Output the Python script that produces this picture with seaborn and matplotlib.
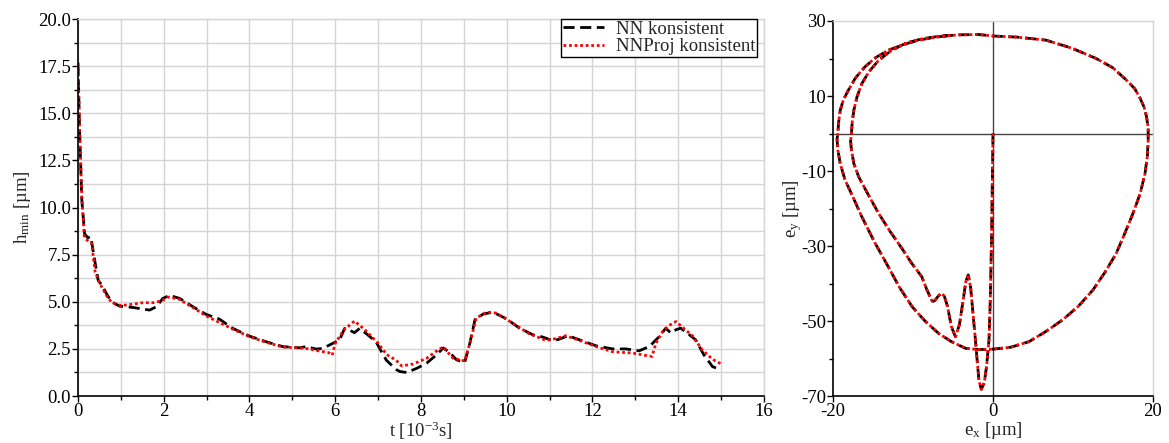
import numpy as np
import pandas as pd
import matplotlib
matplotlib.use("Agg")
import matplotlib.pyplot as plt
from matplotlib.ticker import MultipleLocator
import seaborn as sns

# values
t_nn = [0.0, 0.04, 0.09, 0.155, 0.23, 0.3, 0.39, 0.47, 0.58, 0.66, 0.78, 0.97, 1.28, 1.67,
        1.83, 1.98, 2.14, 2.37, 2.68, 2.99, 3.3, 3.61, 4.0, 4.39, 4.78, 5.17, 5.32, 5.56,
        5.71, 5.94, 6.1, 6.22, 6.33, 6.45, 6.57, 6.72, 6.95, 7.19, 7.42, 7.51, 7.67, 7.9,
        8.13, 8.36, 8.52, 8.67, 8.83, 9.02, 9.14, 9.26, 9.45, 9.68, 9.99, 10.3, 10.61,
        10.84, 11.08, 11.23, 11.43, 11.7, 12.09, 12.47, 12.78, 13.09, 13.33, 13.56, 13.71,
        13.83, 13.95, 14.06, 14.26, 14.41, 14.6, 14.8, 14.99]
h_nn = [17.65, 13.9, 10.4, 8.6, 8.4, 8.45, 7.2, 6.15, 5.8, 5.45, 5.0, 4.77, 4.7, 4.56,
        4.74, 5.18, 5.34, 5.18, 4.74, 4.33, 4.08, 3.59, 3.18, 2.88, 2.62, 2.56, 2.62, 2.49,
        2.53, 2.79, 2.97, 3.59, 3.5, 3.36, 3.59, 3.32, 2.88, 1.91, 1.41, 1.3, 1.25, 1.47,
        1.74, 2.18, 2.55, 2.31, 1.92, 1.78, 2.8, 4.05, 4.35, 4.45, 4.1, 3.6, 3.25,
        3.13, 2.93, 3.02, 3.2, 2.98, 2.66, 2.5, 2.5, 2.4, 2.63, 3.16, 3.6,
        3.34, 3.52, 3.6, 3.25, 2.98, 2.18, 1.56, 1.4]

t_proj = [0.0, 0.04, 0.09, 0.15, 0.25, 0.32, 0.4, 0.5, 0.6, 0.7, 0.8, 1.0, 1.2, 1.5,
          1.75, 1.95, 2.1, 2.35, 2.68, 2.99, 3.3, 3.61, 4.0, 4.39, 4.78, 5.17, 5.4, 5.6,
          5.85, 5.93, 6.0, 6.2, 6.45, 6.7, 7.0, 7.2, 7.42, 7.55, 7.82, 8.13, 8.4, 8.52,
          8.75, 9.02, 9.14, 9.29, 9.53, 9.76, 10.15, 10.53, 10.92, 11.15, 11.38, 11.7, 12.09,
          12.47, 12.94, 13.25, 13.39, 13.48, 13.64, 13.79, 13.95, 14.1, 14.33, 14.56, 14.8,
          14.99]
h_proj = [17.7, 14.0, 10.5, 8.4, 8.2, 8.1, 6.6, 6.0, 5.6, 5.2, 4.95, 4.8, 4.85, 4.95,
          4.95, 5.05, 5.25, 5.15, 4.7, 4.25, 3.9, 3.55, 3.15, 2.85, 2.6, 2.55, 2.5, 2.4,
          2.3, 2.17, 2.8, 3.5, 3.98, 3.5, 2.8, 2.2, 1.9, 1.6, 1.7, 2.0, 2.45, 2.6,
          2.0, 1.86, 2.8, 4.14, 4.45, 4.4, 3.85, 3.3, 2.95, 3.05, 3.2, 2.95, 2.62,
          2.35, 2.28, 2.15, 2.1, 2.8, 3.43, 3.75, 3.95, 3.65, 3.2, 2.45, 1.95,
          1.72]

ex_nn = [0.0, -0.1, -0.2, -0.35, -0.5, -0.8, -1.1, -1.46, -1.75, -2.0, -2.2, -2.5, -2.8,
         -3.1, -3.4, -3.7, -4.2, -4.7, -5.2, -5.7, -6.1, -6.5, -6.9, -7.3, -7.6,
         -8.3, -8.9, -10.2, -11.4, -12.9, -14.3, -15.6, -16.8, -17.4, -17.7, -17.8, -17.7,
         -17.6, -17.4, -17.0, -16.4, -15.5, -14.3, -12.8, -11.0, -9.0, -6.8, -4.3, -1.8,
         0.0, 3.0, 6.6, 9.8, 12.9, 15.0, 16.7, 17.7, 18.3, 18.9, 19.2, 19.4, 19.4, 19.3,
         19.0, 18.4, 17.5, 16.5, 15.4, 14.0, 12.5, 10.7, 8.7, 6.6, 4.5, 2.2, 0.0, -1.7,
         -3.4, -5.2, -6.8, -8.5, -10.1, -11.7, -13.1, -14.8, -16.4, -17.6, -18.5, -19.1,
         -19.4, -19.5, -19.4, -19.3, -19.1, -18.7, -18.1, -17.2, -16.0, -14.7, -13.1,
         -11.2, -9.3, -7.2, -5.1]
ey_nn = [0.0, -15.0, -30.0, -45.0, -55.0, -62.0, -66.5, -68.2, -66.0, -60.0, -55.0, -48.0,
         -41.0, -37.7, -39.5, -44.0, -51.0, -54.2, -51.5, -46.0, -43.3, -42.6, -43.5, -44.6,
         -44.8, -41.5, -38.2, -34.5, -30.6, -26.0, -21.3, -16.3, -11.5, -8.0, -4.4, -2.0,
         0.0, 3.0, 6.2, 9.8, 13.3, 16.5, 19.5, 22.0, 24.0, 25.2, 25.9, 26.3, 26.4,
         26.0, 25.7, 24.9, 22.8, 20.0, 17.5, 14.2, 12.0, 9.8, 7.0, 4.4, 1.5, -1.8, -6.0,
         -10.7, -16.0, -21.3, -26.5, -32.0, -37.0, -41.7, -46.0, -49.7, -52.8, -55.5, -57.0,
         -57.5, -57.6, -57.3, -55.5, -53.3, -50.0, -46.2, -41.0, -35.5, -29.0, -22.2,
         -16.5, -12.4, -8.0, -4.4, -1.5, 0.0, 3.0, 6.2, 9.0, 11.5, 14.8, 17.8, 20.2,
         22.2, 23.7, 24.9, 25.7, 26.2]
ex_proj = list(ex_nn)
ey_proj = list(ey_nn)

sns.set_style("white")
plt.rcParams["font.family"] = ["Liberation Serif", "DejaVu Serif"]
plt.rcParams["mathtext.fontset"] = "custom"
plt.rcParams["mathtext.rm"] = "Liberation Serif"
plt.rcParams["mathtext.it"] = "Liberation Serif:italic"
plt.rcParams["axes.unicode_minus"] = False
fs = 13.5

fig = plt.figure(figsize=(11.69, 4.43), dpi=100)
ax1 = fig.add_axes([0.0667, 0.106, 0.5868, 0.851])
ax2 = fig.add_axes([0.7126, 0.106, 0.2737, 0.8466])

dash = (0, (4, 2))
dot = (0, (1, 1))

# left: h_min over time
sns.lineplot(x=t_nn, y=h_nn, ax=ax1, color="black", lw=2, linestyle=dash,
             sort=False, estimator=None, label="NN konsistent")
sns.lineplot(x=t_proj, y=h_proj, ax=ax1, color="#ff0000", lw=2, linestyle=dot,
             sort=False, estimator=None, label="NNProj konsistent")
ax1.set_xlim(0, 16)
ax1.set_ylim(0, 20)
ax1.xaxis.set_major_locator(MultipleLocator(2))
ax1.xaxis.set_minor_locator(MultipleLocator(1))
ax1.yaxis.set_major_locator(MultipleLocator(2.5))
ax1.yaxis.set_minor_locator(MultipleLocator(1.25))
ax1.set_yticks(np.arange(0, 20.1, 2.5))
ax1.set_yticklabels([f"{v:.1f}" for v in np.arange(0, 20.1, 2.5)])
ax1.grid(True, which="both", color="#d4d4d4", lw=1)
ax1.set_axisbelow(True)
ax1.set_xlabel("t [10$^{-3}$s]", fontsize=fs, labelpad=0)
ax1.set_ylabel("h$_{\\mathrm{min}}$ [µm]", fontsize=fs, labelpad=4)
leg = ax1.legend(loc="upper right", bbox_to_anchor=(0.99, 1.0), borderaxespad=0,
                 fontsize=fs, fancybox=False, framealpha=1, edgecolor="black",
                 handlelength=2.2, borderpad=0.1, labelspacing=0.0, handletextpad=0.6)
leg.get_frame().set_linewidth(1)

# right: shaft orbit
ax2.axhline(0, color="#444444", lw=1, zorder=1)
ax2.axvline(0, color="#444444", lw=1, zorder=1)
sns.lineplot(x=ex_nn, y=ey_nn, ax=ax2, color="black", lw=2, linestyle=dash,
             sort=False, estimator=None)
sns.lineplot(x=ex_proj, y=ey_proj, ax=ax2, color="#ff0000", lw=2, linestyle=dot,
             sort=False, estimator=None)
ax2.set_xlim(-20, 20)
ax2.set_ylim(-70, 30)
ax2.set_xticks([-20, 0, 20])
ax2.set_yticks([30, 10, -10, -30, -50, -70])
ax2.yaxis.set_minor_locator(MultipleLocator(10))
ax2.set_xlabel("e$_{\\mathrm{x}}$ [µm]", fontsize=fs, labelpad=0)
ax2.set_ylabel("e$_{\\mathrm{y}}$ [µm]", fontsize=fs, labelpad=-2)

for ax in (ax1, ax2):
    ax.tick_params(which="major", direction="out", length=4, width=1, colors="black",
                   labelsize=fs, pad=1, left=True, bottom=True)
    ax.tick_params(which="minor", direction="out", length=3, width=1, colors="black",
                   left=True, bottom=True)
    for s in ("left", "bottom"):
        ax.spines[s].set_color("black")
        ax.spines[s].set_linewidth(1.2)
    for s in ("top", "right"):
        ax.spines[s].set_color("#d4d4d4")
        ax.spines[s].set_linewidth(1)
ax2.tick_params(axis="x", which="minor", bottom=False)

fig.savefig("out.png", dpi=100)
